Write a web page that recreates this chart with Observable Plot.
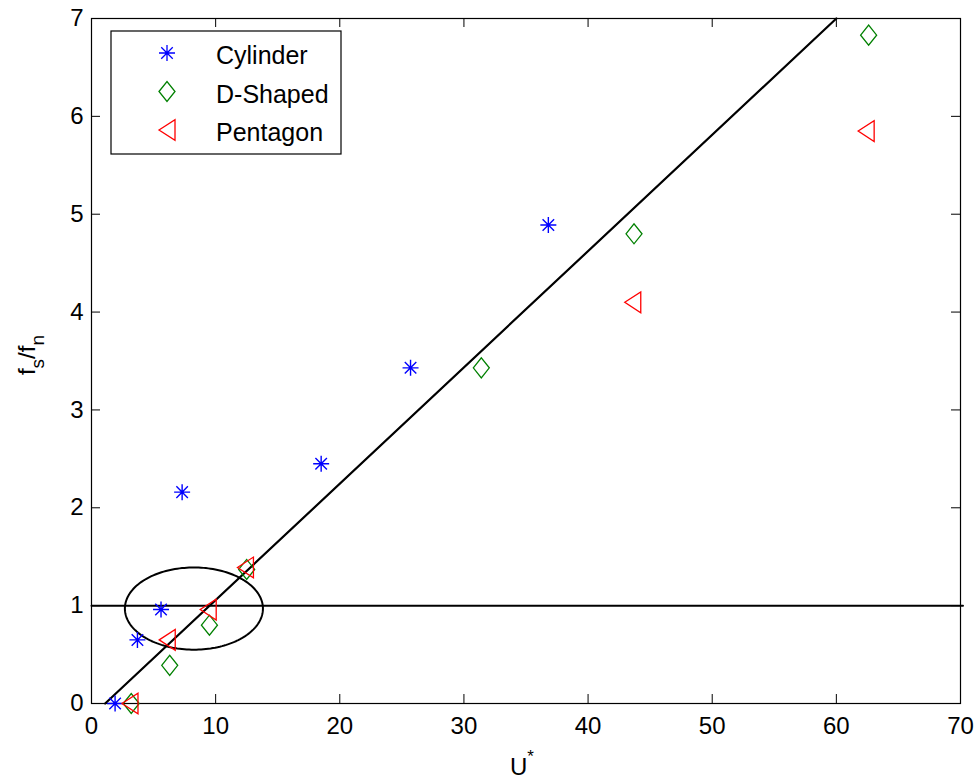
<!DOCTYPE html>
<html><head><meta charset="utf-8">
<script src="https://cdn.jsdelivr.net/npm/d3@7"></script>
<script src="https://cdn.jsdelivr.net/npm/@observablehq/plot@0.6"></script>
<style>body{margin:0;background:#fff;} svg{display:block}</style>
</head><body><div id="chart"></div>
<script>
// ---- data ----
const seriesNames = ["Cylinder", "D-Shaped", "Pentagon"];
const cylinderX = [1.9, 3.7, 5.6, 7.3, 18.5, 25.7, 36.8];
const cylinderY = [0, 0.65, 0.96, 2.16, 2.45, 3.43, 4.89];
const dshapedX = [3.2, 6.3, 9.5, 12.5, 31.4, 43.7, 62.6];
const dshapedY = [0, 0.39, 0.80, 1.37, 3.43, 4.80, 6.83];
const pentagonX = [3.1, 6.1, 9.4, 12.4, 43.6, 62.4];
const pentagonY = [0, 0.65, 0.96, 1.39, 4.10, 5.85];
const fitLineX = [1.1, 60];
const fitLineY = [0, 7];
const refLineX = [0, 70.2];
const refLineY = [1, 1];
const ellipseCenter = [8.25, 0.97];
const ellipseRadii = [5.56, 0.42];
const xTicks = [0, 10, 20, 30, 40, 50, 60, 70];
const yTicks = [0, 1, 2, 3, 4, 5, 6, 7];

const zip = (xs, ys) => xs.map((x, i) => ({x, y: ys[i]}));
const cylinder = zip(cylinderX, cylinderY);
const dshaped = zip(dshapedX, dshapedY);
const pentagon = zip(pentagonX, pentagonY);
const fitLine = zip(fitLineX, fitLineY);
const refLine = zip(refLineX, refLineY);
const ellipse = d3.range(0, 181).map(i => {
  const t = i / 180 * 2 * Math.PI;
  return {x: ellipseCenter[0] + ellipseRadii[0] * Math.cos(t), y: ellipseCenter[1] + ellipseRadii[1] * Math.sin(t)};
});

// ---- MATLAB-like marker symbols ----
const asterisk = {draw(ctx, size) {
  const r = Math.sqrt(size / Math.PI), d = r * 0.72;
  ctx.moveTo(-r, 0); ctx.lineTo(r, 0);
  ctx.moveTo(0, -r); ctx.lineTo(0, r);
  ctx.moveTo(-d, -d); ctx.lineTo(d, d);
  ctx.moveTo(-d, d); ctx.lineTo(d, -d);
}};
const diamond = {draw(ctx, size) {
  const r = Math.sqrt(size / Math.PI);
  ctx.moveTo(-r, 0); ctx.lineTo(0, -1.25 * r); ctx.lineTo(r, 0); ctx.lineTo(0, 1.25 * r); ctx.closePath();
}};
const triLeft = {draw(ctx, size) {
  const r = Math.sqrt(size / Math.PI);
  ctx.moveTo(-r, 0); ctx.lineTo(r, -1.3 * r); ctx.lineTo(r, 1.3 * r); ctx.closePath();
}};
const symbols = [asterisk, diamond, triLeft];
const colors = ["#0000ff", "#008000", "#ff0000"];

const W = 979, H = 784, mL = 91, mR = 19, mT = 18, mB = 81;
const plotH = H - mT - mB, plotW = W - mL - mR;
const tickLen = 9;

const svg = Plot.plot({
  width: W, height: H,
  marginLeft: mL, marginRight: mR, marginTop: mT, marginBottom: mB,
  style: {fontFamily: "'Liberation Sans', Arial, Helvetica, sans-serif", fontSize: "24px", background: "#fff", color: "#000"},
  x: {domain: [0, 70]},
  y: {domain: [0, 7]},
  marks: [
    Plot.frame({stroke: "#000", strokeWidth: 1.2}),
    // inward ticks on all four sides
    Plot.tickX(xTicks, {x: d => d, insetTop: plotH - tickLen, stroke: "#000"}),
    Plot.tickX(xTicks, {x: d => d, insetBottom: plotH - tickLen, stroke: "#000"}),
    Plot.tickY(yTicks, {y: d => d, insetRight: plotW - tickLen, stroke: "#000"}),
    Plot.tickY(yTicks, {y: d => d, insetLeft: plotW - tickLen, stroke: "#000"}),
    Plot.axisX({ticks: xTicks, tickSize: 0, tickPadding: 13, label: null, tickFormat: d3.format("d")}),
    Plot.axisY({ticks: yTicks, tickSize: 0, tickPadding: 8, label: null, tickFormat: d3.format("d")}),
    Plot.line(fitLine, {x: "x", y: "y", stroke: "#000", strokeWidth: 2.2}),
    Plot.line(refLine, {x: "x", y: "y", stroke: "#000", strokeWidth: 2}),
    Plot.line(ellipse, {x: "x", y: "y", stroke: "#000", strokeWidth: 2, curve: "linear"}),
    Plot.dot(cylinder, {x: "x", y: "y", symbol: asterisk, r: 8, stroke: colors[0], strokeWidth: 1.4, fill: "none"}),
    Plot.dot(dshaped, {x: "x", y: "y", symbol: diamond, r: 8, stroke: colors[1], strokeWidth: 1.3, fill: "none"}),
    Plot.dot(pentagon, {x: "x", y: "y", symbol: triLeft, r: 8, stroke: colors[2], strokeWidth: 1.3, fill: "none"})
  ]
});
svg.style.overflow = "visible";
document.getElementById("chart").appendChild(svg);

const s = d3.select(svg);
const font = "'Liberation Sans', Arial, Helvetica, sans-serif";

// Legend box
const lg = s.append("g");
lg.append("rect").attr("x", 111).attr("y", 31).attr("width", 230).attr("height", 123)
  .attr("fill", "#fff").attr("stroke", "#000").attr("stroke-width", 1.2);
seriesNames.forEach((name, i) => {
  const cy = 53 + i * 38.5;
  lg.append("path").attr("d", d3.symbol(symbols[i], 64 * Math.PI)())
    .attr("transform", `translate(167,${cy})`)
    .attr("fill", "none").attr("stroke", colors[i]).attr("stroke-width", 1.3);
  lg.append("text").attr("x", 216).attr("y", cy + 11).attr("text-anchor", "start").attr("font-family", font)
    .attr("font-size", 25).attr("fill", "#000").text(name);
});

// x-axis label U*
const xl = s.append("text").attr("x", 522).attr("y", 775).attr("text-anchor", "middle")
  .attr("font-family", font).attr("font-size", 24).attr("fill", "#000");
xl.append("tspan").text("U");
xl.append("tspan").attr("dy", -13).attr("font-size", 17).text("*");

// y-axis label f_s/f_n
const yl = s.append("text").attr("transform", "translate(35,355) rotate(-90)").attr("text-anchor", "middle")
  .attr("font-family", font).attr("font-size", 24).attr("fill", "#000");
yl.append("tspan").text("f");
yl.append("tspan").attr("dy", 9).attr("font-size", 19).text("s");
yl.append("tspan").attr("dy", -9).text("/f");
yl.append("tspan").attr("dy", 9).attr("font-size", 19).text("n");
</script>
</body></html>
